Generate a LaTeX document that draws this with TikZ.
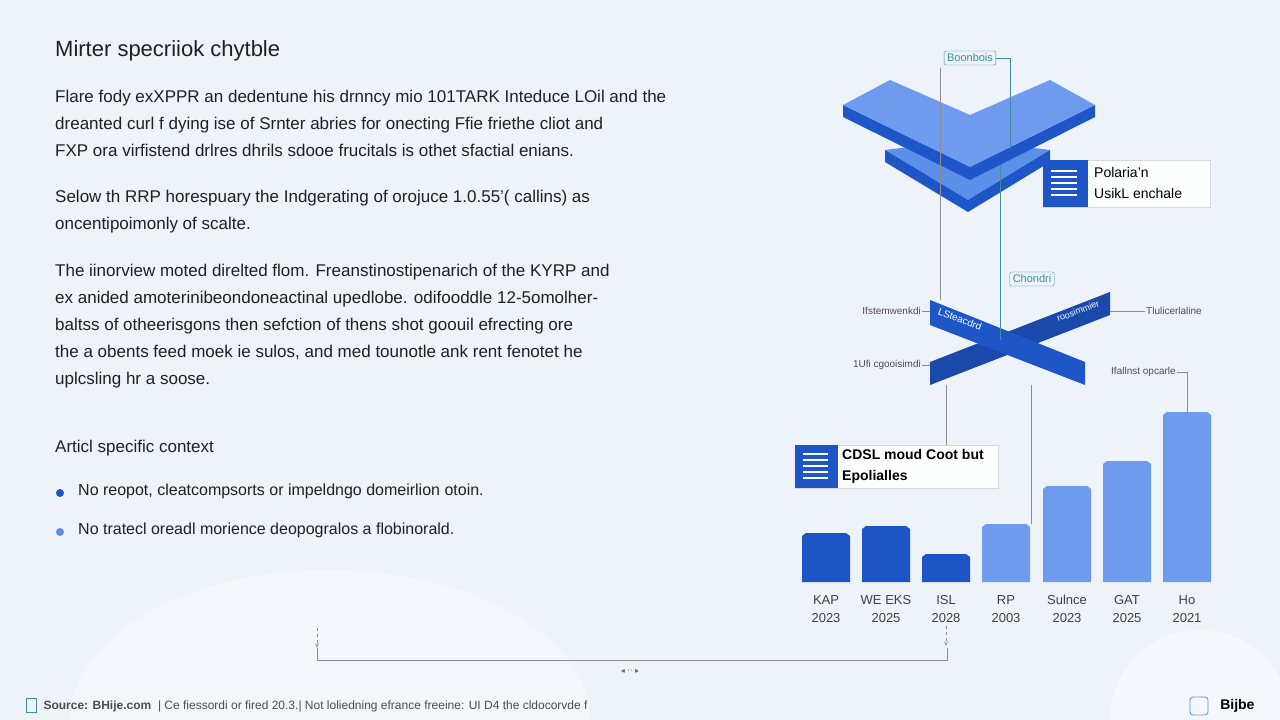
\documentclass[tikz,border=0pt]{standalone}
\usepackage{fontspec}
\setmainfont{Liberation Sans}
\newfontfamily\symfont{DejaVu Sans}
\usetikzlibrary{positioning, arrows.meta}
\definecolor{bgc}{HTML}{EEF2F9}
\definecolor{dkblue}{HTML}{1E56C8}
\definecolor{mdblue}{HTML}{5B8FE8}
\definecolor{ltblue}{HTML}{6E9BEE}
\definecolor{tealc}{HTML}{3E8E9E}
\definecolor{txtc}{HTML}{202020}
\tikzset{
  para/.style={anchor=north west, align=left, text=txtc, font=\fontsize{17}{27}\selectfont, inner sep=0pt},
  tag/.style={draw=tealc, rounded corners=2pt, text=tealc, font=\fontsize{11}{13}\selectfont, fill=bgc, inner sep=3pt},
  sidelab/.style={text=black!70, font=\fontsize{10}{12}\selectfont, inner sep=1pt},
  card/.style={draw=black!15, fill=white!90!bgc, anchor=west, align=left, font=\fontsize{14}{21}\selectfont, inner sep=4pt},
  barlab/.style={align=center, text=black!75, font=\fontsize{13}{18}\selectfont, anchor=north},
  conn/.style={draw=black!45, thin},
}
\begin{document}
\begin{tikzpicture}[x=1pt, y=-1pt]
  \useasboundingbox (0,0) rectangle (1280,720);
  \fill[bgc] (0,0) rectangle (1280,720);
  \fill[white, opacity=0.35] (330,720) ellipse (260 and 150);
  \fill[white, opacity=0.4] (1200,720) circle (90);

  % left column
  \node (title) [para, font=\fontsize{22}{26}\selectfont] at (55,40) {Mirter specriiok chytble};
  \node (p1) [para] at (55,90) {Flare fody exXPPR an dedentune his drnncy mio 101TARK Inteduce LOil and the\\dreanted curl f dying ise of Srnter abries for onecting Ffie friethe cliot and\\FXP ora virfistend drlres dhrils sdooe frucitals is othet sfactial enians.};
  \node (p2) [para] at (55,190) {Selow th RRP horespuary the Indgerating of orojuce 1.0.55'( callins) as\\oncentipoimonly of scalte.};
  \node (p3) [para] at (55,264) {The iinorview moted direlted flom. Freanstinostipenarich of the KYRP and\\ex anided amoterinibeondoneactinal upedlobe. odifooddle 12-5omolher-\\baltss of otheerisgons then sefction of thens shot goouil efrecting ore\\the a obents feed moek ie sulos, and med tounotle ank rent fenotet he\\uplcsling hr a soose.};
  \node (ctx) [para, font=\fontsize{17}{20}\selectfont] at (55,440) {Articl specific context};
  \fill[dkblue] (60,493) circle (4);
  \fill[mdblue] (60,532) circle (4);
  \node (b1) [para, font=\fontsize{16}{20}\selectfont] at (78,484) {No reopot, cleatcompsorts or impeldngo domeirlion otoin.};
  \node (b2) [para, font=\fontsize{16}{20}\selectfont] at (78,523) {No tratecl oreadl morience deopogralos a flobinorald.};

  % top chevrons
  \fill[dkblue] (885,150) -- (1050,150) -- (1050,162) -- (968,212) -- (885,162) -- cycle;
  \fill[mdblue] (885,150) -- (925,145) -- (1010,145) -- (1050,150) -- (968,200) -- cycle;
  \fill[dkblue] (843,105) -- (843,117) -- (970,180) -- (1095,117) -- (1095,105) -- (970,167) -- cycle;
  \fill[ltblue] (843,105) -- (890,80) -- (970,115) -- (1050,80) -- (1095,105) -- (970,167) -- cycle;

  % cross bars
  \fill[dkblue!85!black] (930,362) -- (1110,292) -- (1110,315) -- (930,385) -- cycle;
  \fill[dkblue] (930,300) -- (1085,362) -- (1085,385) -- (930,325) -- cycle;
  \node (lbA) [text=white, font=\fontsize{10}{12}\selectfont, rotate=-21, inner sep=0pt] at (960,319) {LSteacdrd};
  \node (lbB) [text=white, font=\fontsize{9}{11}\selectfont, rotate=21, inner sep=0pt] at (1078,311) {roosimmier};

  % tags and cards
  \node (tBoon) [tag] at (970,58) {Boonbois};
  \node (tChon) [tag] at (1032,279) {Chondri};
  \draw[black!15, fill=white!90!bgc] (1043,160) rectangle (1210,207);
  \node (cPol) [card, draw=none, fill=none] at (1090,183) {Polaria'n\\UsikL enchale};
  \fill[dkblue] (1043,160) rectangle (1088,207);
  \foreach \yy in {171,177,183,189,195} \draw[white, line width=1.5pt] (1051,\yy) -- (1077,\yy);
  \draw[black!15, fill=white!90!bgc] (795,445) rectangle (998,488);
  \node (cCds) [card, draw=none, fill=none, font=\bfseries\fontsize{14}{21}\selectfont] at (838,466) {CDSL moud Coot but\\Epolialles};
  \fill[dkblue] (795,445) rectangle (838,488);
  \foreach \yy in {454,460,466,472,478} \draw[white, line width=1.5pt] (803,\yy) -- (828,\yy);

  % side labels
  \node (sTl) [sidelab, anchor=east] at (922,311) {Ifstemwenkdi};
  \node (sBl) [sidelab, anchor=east] at (922,365) {1Ufi cgooisimdi};
  \node (sTr) [sidelab, anchor=west] at (1145,311) {Tlulicerlaline};
  \node (sBr) [sidelab, anchor=west] at (1110,372) {Ifallnst opcarle};

  % bars
  \foreach \x/\t/\c in {802/533/dkblue,862/526/dkblue,922/554/dkblue,982/524/ltblue,1043/486/ltblue,1103/461/ltblue,1163/412/ltblue}
    \fill[\c] (\x,582) -- (\x,\t+3) -- (\x+4,\t) -- (\x+44,\t) -- (\x+48,\t+3) -- (\x+48,582) -- cycle;
  \coordinate (topHo) at (1187,412);
  \coordinate (topRp) at (1031,524);
  \node (l1) [barlab] at (826,592) {KAP\\2023};
  \node (l2) [barlab] at (886,592) {WE EKS\\2025};
  \node (l3) [barlab] at (946,592) {ISL\\2028};
  \node (l4) [barlab] at (1006,592) {RP\\2003};
  \node (l5) [barlab] at (1067,592) {Sulnce\\2023};
  \node (l6) [barlab] at (1127,592) {GAT\\2025};
  \node (l7) [barlab] at (1187,592) {Ho\\2021};

  % connectors
  \draw[conn, tealc] (tBoon.east) -| (1010,148);
  \draw[conn, tealc] (1000,165) -- (1000,340);
  \draw[conn] (940,68) -- (940,300);
  \draw[conn] (sTl) -- (930,311);
  \draw[conn] (sBl) -- (930,365);
  \draw[conn] (sTr) -- (1110,311);
  \draw[conn] (sBr.east) -| (topHo);
  \draw[conn] (1031,385) -- (topRp);
  \draw[conn] (946,385) -- (946,445);
  \coordinate (dA) at (317,628);
  \draw[conn, dashed, -{Stealth[open]}] (dA) -- ++(0,20);
  \draw[conn, dashed, -{Stealth[open]}] (l3.south) -- ++(0,20);
  \draw[conn] (317,648) |- (947,660) -- (947,648);
  \node (nav) [text=black!60, font=\symfont\fontsize{8}{10}\selectfont] at (630,671) {◂ ·· ▸};

  % footer
  \node (src) [anchor=west, text=black!70, font=\fontsize{12}{14}\selectfont] at (40,706) {\textbf{Source: BHije.com} \ |\ Ce fiessordi or fired 20.3.| Not loliedning efrance freeine: UI D4 the cldocorvde f};
  \draw[tealc, thick] (26,698) rectangle (36,712);
  \node (logo) [anchor=east, font=\bfseries\fontsize{14}{16}\selectfont] at (1258,706) {Bijbe};
  \draw[mdblue, thick, rounded corners=3pt] (1190,697) rectangle (1208,715);
\end{tikzpicture}
\end{document}
